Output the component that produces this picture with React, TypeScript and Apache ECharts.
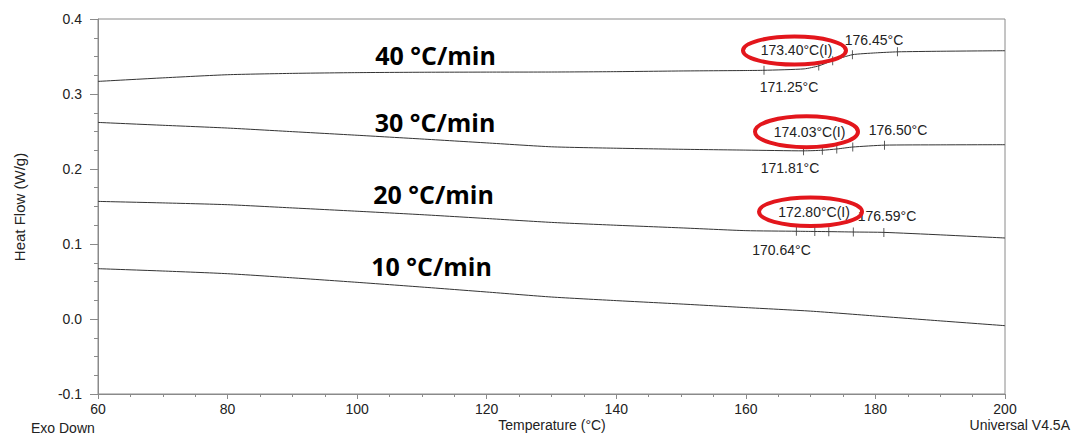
import React, { useEffect, useRef } from "react";
import * as echarts from "echarts";

// Heating rate labels
const rateLabels = ["40 °C/min", "30 °C/min", "20 °C/min", "10 °C/min"];

// Curve data (Temperature °C, Heat Flow W/g)
const temps40 = [60, 70, 80, 90, 100, 110, 120, 130, 140, 150, 160, 162.8, 169, 171.25, 173.4, 176.45, 180, 183.4, 190, 200];
const flow40 = [0.3168, 0.3215, 0.3257, 0.3275, 0.3285, 0.329, 0.3292, 0.3293, 0.3298, 0.3307, 0.3313, 0.3316, 0.3335, 0.3375, 0.3445, 0.3524, 0.3548, 0.3562, 0.357, 0.3577];

const temps30 = [60, 70, 80, 90, 100, 110, 120, 130, 140, 150, 160, 168.9, 171.81, 174.03, 176.5, 181.4, 190, 200];
const flow30 = [0.2621, 0.2583, 0.2546, 0.2498, 0.245, 0.24, 0.2348, 0.2296, 0.2277, 0.2263, 0.2252, 0.2242, 0.225, 0.2267, 0.2293, 0.2318, 0.2322, 0.2324];

const temps20 = [60, 70, 80, 90, 100, 110, 120, 130, 140, 150, 160, 167.8, 170.64, 172.8, 176.59, 181.3, 190, 200];
const flow20 = [0.1568, 0.1548, 0.1524, 0.1481, 0.1437, 0.1391, 0.134, 0.1288, 0.125, 0.1215, 0.1178, 0.117, 0.1167, 0.1165, 0.116, 0.1155, 0.1122, 0.108];

const temps10 = [60, 70, 80, 90, 100, 110, 120, 130, 140, 150, 160, 170, 180, 190, 200];
const flow10 = [0.0671, 0.064, 0.0604, 0.0549, 0.0489, 0.0426, 0.036, 0.0293, 0.0245, 0.02, 0.0152, 0.0105, 0.004, -0.0025, -0.0089];

// Analysis tick positions on curves (°C)
const ticks40 = [162.8, 171.25, 173.4, 176.45, 183.4];
const ticks30 = [168.9, 171.81, 174.03, 176.5, 181.4];
const ticks20 = [167.8, 170.64, 172.8, 176.59, 181.3];

// Annotation texts
const onset40 = "171.25°C", infl40 = "173.40°C(I)", end40 = "176.45°C";
const onset30 = "171.81°C", infl30 = "174.03°C(I)", end30 = "176.50°C";
const onset20 = "170.64°C", infl20 = "172.80°C(I)", end20 = "176.59°C";

// Axis tick settings
const xMin = 60, xMax = 200, xStep = 20;
const yMin = -0.1, yMax = 0.4, yStep = 0.1;

const pairs = (t: number[], f: number[]) => t.map((x, i) => [x, f[i]]);
const tickPts = (ticks: number[], t: number[], f: number[]) =>
  ticks.map((x) => [x, f[t.indexOf(x)]]);

export default function App() {
  const ref = useRef<HTMLDivElement>(null);
  useEffect(() => {
    document.body.style.margin = "0";
    const chart = echarts.init(ref.current!, undefined, { renderer: "svg" });
    const lineColor = "#333333";
    const axisColor = "#8a8a8a";
    const textColor = "#222222";
    const font = "'Liberation Sans', Arial, sans-serif";
    const lineSeries = (t: number[], f: number[]) => ({
      type: "line",
      data: pairs(t, f),
      showSymbol: false,
      smooth: 0.2,
      lineStyle: { color: lineColor, width: 1 },
      silent: true,
    });
    const tickSeries = (ticks: number[], t: number[], f: number[]) => ({
      type: "scatter",
      data: tickPts(ticks, t, f),
      symbol: "rect",
      symbolSize: [1, 9],
      itemStyle: { color: lineColor },
      silent: true,
    });
    const annot = (text: string, x: number, y: number) => ({
      type: "text",
      x,
      y,
      style: {
        text,
        fill: textColor,
        font: `14px ${font}`,
        textAlign: "center",
        textVerticalAlign: "middle",
      },
      z: 10,
    });
    const ring = (cx: number, cy: number, rx: number, ry: number) => ({
      type: "ellipse",
      shape: { cx, cy, rx, ry },
      style: { fill: "none", stroke: "#e3161c", lineWidth: 4 },
      z: 11,
    });
    const bigLabel = (text: string, x: number, y: number) => ({
      type: "text",
      x,
      y,
      style: {
        text,
        fill: "#000000",
        font: `bold 25px 'Open Sans', sans-serif`,
        textAlign: "center",
        textVerticalAlign: "middle",
      },
      z: 10,
    });
    chart.setOption({
      animation: false,
      grid: {
        left: 98,
        top: 19,
        width: 907,
        height: 375,
        show: true,
        borderColor: axisColor,
        borderWidth: 1,
        backgroundColor: "transparent",
      },
      xAxis: {
        type: "value",
        min: xMin,
        max: xMax,
        interval: xStep,
        axisLine: { onZero: false, lineStyle: { color: axisColor } },
        axisTick: { length: 5, lineStyle: { color: axisColor } },
        minorTick: { show: true, splitNumber: 4, length: 3, lineStyle: { color: axisColor } },
        splitLine: { show: false },
        axisLabel: { color: textColor, fontSize: 14, fontFamily: font, margin: 8 },
      },
      yAxis: {
        type: "value",
        min: yMin,
        max: yMax,
        interval: yStep,
        axisLine: { show: true, onZero: false, lineStyle: { color: axisColor } },
        axisTick: { show: true, length: 8, lineStyle: { color: axisColor } },
        minorTick: { show: true, splitNumber: 4, length: 4, lineStyle: { color: axisColor } },
        splitLine: { show: false },
        axisLabel: {
          color: textColor,
          fontSize: 14,
          fontFamily: font,
          margin: 16,
          formatter: (v: number) => v.toFixed(1),
        },
      },
      series: [
        lineSeries(temps40, flow40),
        lineSeries(temps30, flow30),
        lineSeries(temps20, flow20),
        lineSeries(temps10, flow10),
        tickSeries(ticks40, temps40, flow40),
        tickSeries(ticks30, temps30, flow30),
        tickSeries(ticks20, temps20, flow20),
      ],
      graphic: [
        bigLabel(rateLabels[0], 435.5, 55),
        bigLabel(rateLabels[1], 435, 122),
        bigLabel(rateLabels[2], 433.5, 194),
        bigLabel(rateLabels[3], 431.5, 266),
        annot(infl40, 796.5, 50),
        annot(end40, 874, 40),
        annot(onset40, 789, 86.5),
        annot(infl30, 809.5, 131.5),
        annot(end30, 898, 130),
        annot(onset30, 790, 168),
        annot(infl20, 814, 211.5),
        annot(end20, 887, 216),
        annot(onset20, 781.5, 250),
        ring(794.5, 50.5, 51.5, 14),
        ring(806.5, 131.7, 51.5, 15.5),
        ring(810.5, 211.7, 51.5, 14.3),
        {
          type: "text",
          x: 19,
          y: 207,
          rotation: Math.PI / 2,
          style: {
            text: "Heat Flow (W/g)",
            fill: textColor,
            font: `15px ${font}`,
            textAlign: "center",
            textVerticalAlign: "middle",
          },
        },
        {
          type: "text",
          x: 552,
          y: 424.5,
          style: {
            text: "Temperature (°C)",
            fill: textColor,
            font: `14px ${font}`,
            textAlign: "center",
            textVerticalAlign: "middle",
          },
        },
        {
          type: "text",
          x: 31,
          y: 428,
          style: {
            text: "Exo Down",
            fill: textColor,
            font: `14px ${font}`,
            textAlign: "left",
            textVerticalAlign: "middle",
          },
        },
        {
          type: "text",
          x: 1070,
          y: 425,
          style: {
            text: "Universal V4.5A",
            fill: textColor,
            font: `14px ${font}`,
            textAlign: "right",
            textVerticalAlign: "middle",
          },
        },
      ],
    });
    return () => chart.dispose();
  }, []);
  return <div ref={ref} style={{ width: 1073, height: 436 }} />;
}
